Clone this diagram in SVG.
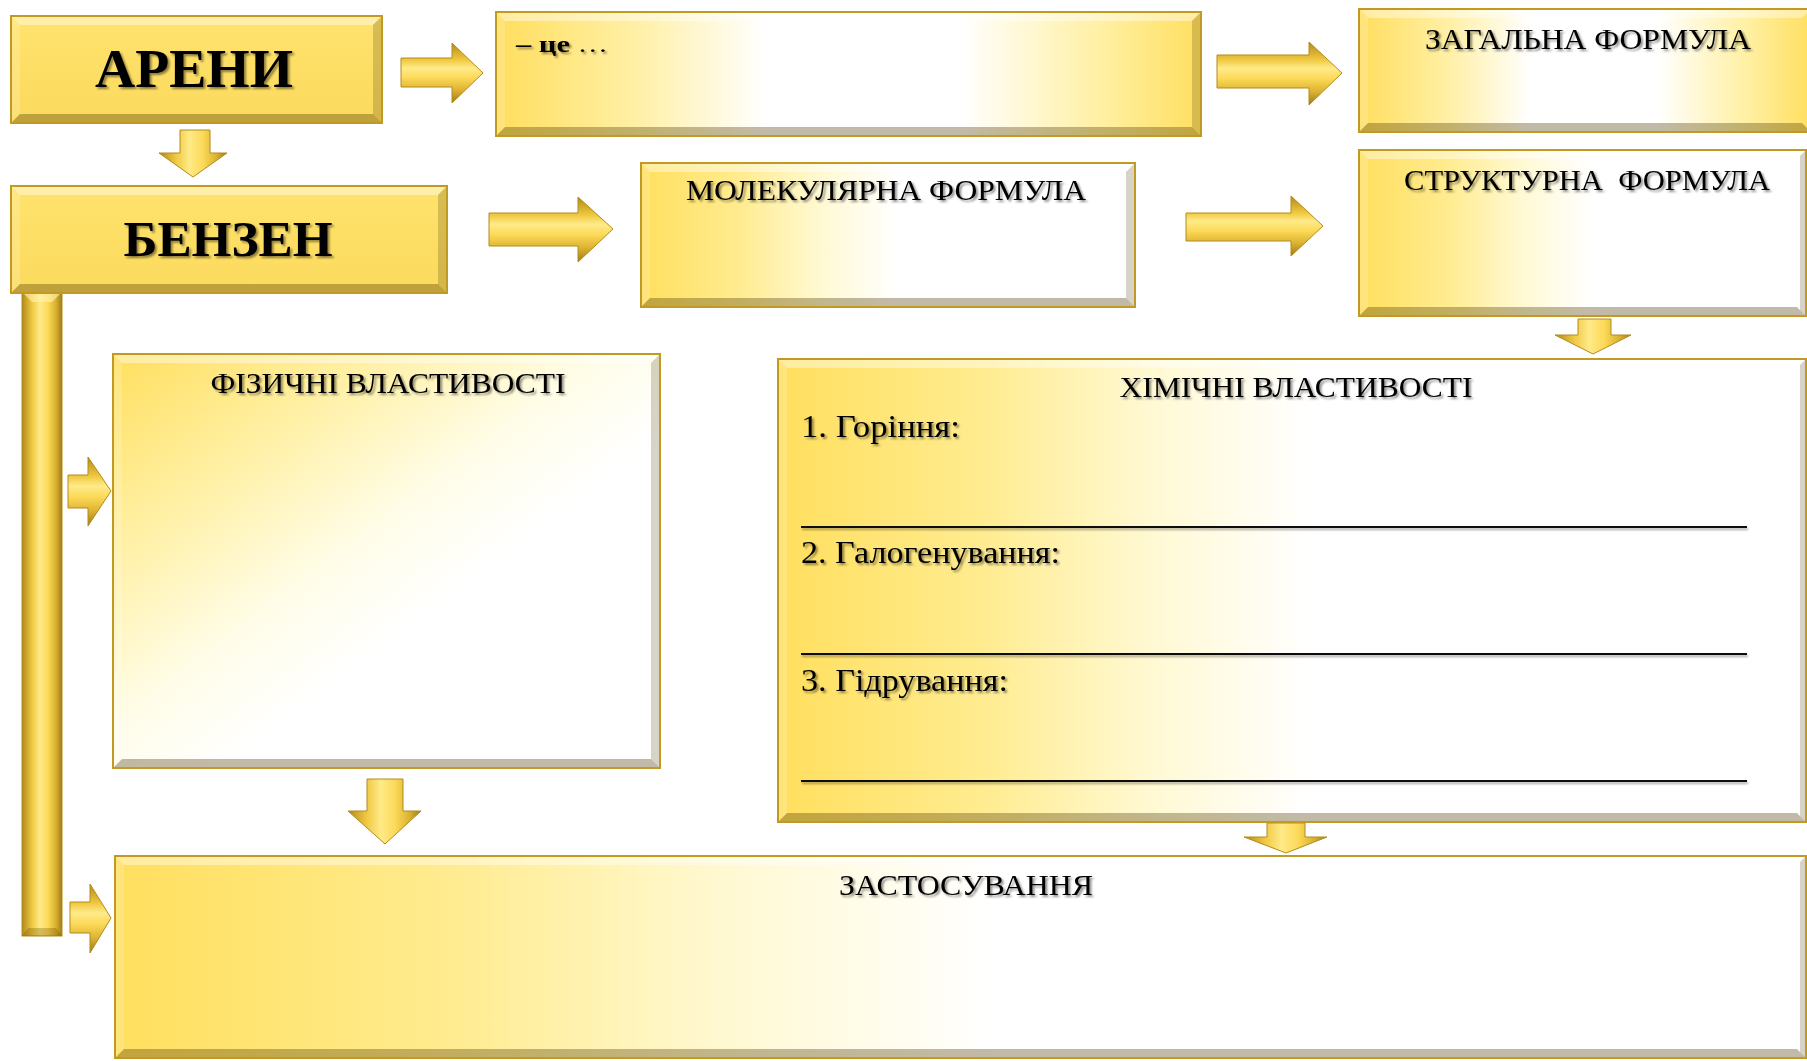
<svg xmlns="http://www.w3.org/2000/svg" width="1807" height="1061" viewBox="0 0 1807 1061">
  <defs>
    <style>
      .lbl { font-family: "Liberation Serif", "Times New Roman", serif; fill: #000; filter: url(#tsh); }
      .big { font-weight: bold; }
      .frame { fill: none; stroke: #C29A22; stroke-width: 2; }
      .hi { fill: #FFFFFF; opacity: 0.42; }
      .hi2 { fill: #FFFFFF; opacity: 0.18; }
      .lo { fill: #4A3600; opacity: 0.22; }
      .lo2 { fill: #4A3600; opacity: 0.34; }
      .rule { fill: #111; filter: url(#lsh); }
      .arrH { fill: url(#arrV); stroke: #B38B1A; stroke-width: 1; }
      .arrV { fill: url(#arrHz); stroke: #B38B1A; stroke-width: 1; }
    </style>
    <!-- solid gold face -->
    <linearGradient id="gold" x1="0" y1="0" x2="0" y2="1">
      <stop offset="0" stop-color="#FFE36E"/>
      <stop offset="1" stop-color="#FBDA5C"/>
    </linearGradient>
    <!-- gold at both ends, white in the middle -->
    <linearGradient id="gwg" x1="0" y1="0" x2="1" y2="0">
      <stop offset="0" stop-color="#FFDE5E"/>
      <stop offset="0.2" stop-color="#FFF0A6"/>
      <stop offset="0.38" stop-color="#FFFFFF"/>
      <stop offset="0.66" stop-color="#FFFFFF"/>
      <stop offset="0.86" stop-color="#FFF0A2"/>
      <stop offset="1" stop-color="#FFDF60"/>
    </linearGradient>
    <!-- gold on the left fading to white -->
    <linearGradient id="fade" x1="0" y1="0" x2="1" y2="0">
      <stop offset="0" stop-color="#FFDF5E"/>
      <stop offset="0.2" stop-color="#FFEC90"/>
      <stop offset="0.36" stop-color="#FFF9D2"/>
      <stop offset="0.52" stop-color="#FFFFFF"/>
      <stop offset="1" stop-color="#FFFFFF"/>
    </linearGradient>
    <!-- diagonal fade for the physical properties panel -->
    <linearGradient id="diag" x1="0" y1="0" x2="1" y2="1">
      <stop offset="0" stop-color="#FFDF5E"/>
      <stop offset="0.25" stop-color="#FFF1A8"/>
      <stop offset="0.45" stop-color="#FFFDE8"/>
      <stop offset="0.6" stop-color="#FFFFFF"/>
      <stop offset="1" stop-color="#FFFFFF"/>
    </linearGradient>
    <!-- arrow shading: across a horizontal arrow -->
    <linearGradient id="arrV" x1="0" y1="0" x2="0" y2="1">
      <stop offset="0" stop-color="#B08A1A"/>
      <stop offset="0.28" stop-color="#F0C840"/>
      <stop offset="0.42" stop-color="#FFEB8A"/>
      <stop offset="0.58" stop-color="#FCD958"/>
      <stop offset="0.78" stop-color="#DDB332"/>
      <stop offset="1" stop-color="#9E7C16"/>
    </linearGradient>
    <!-- arrow shading: across a vertical arrow / bar -->
    <linearGradient id="arrHz" x1="0" y1="0" x2="1" y2="0">
      <stop offset="0" stop-color="#B08A1A"/>
      <stop offset="0.25" stop-color="#EFC842"/>
      <stop offset="0.45" stop-color="#FFEA88"/>
      <stop offset="0.65" stop-color="#FCD958"/>
      <stop offset="0.85" stop-color="#D9B030"/>
      <stop offset="1" stop-color="#9E7C16"/>
    </linearGradient>
    <filter id="tsh" x="-5%" y="-30%" width="112%" height="170%">
      <feDropShadow dx="2" dy="2" stdDeviation="1.2" flood-color="#000" flood-opacity="0.45"/>
    </filter>
    <filter id="lsh" x="-2%" y="-300%" width="104%" height="800%">
      <feDropShadow dx="1" dy="2" stdDeviation="1" flood-color="#000" flood-opacity="0.35"/>
    </filter>
  </defs>

  <rect width="1807" height="1061" fill="#FFFFFF"/>

  <!-- connectors: block arrows and the side rail -->
  <g id="connectors">
    <polygon id="a-areny-def" class="arrH" points="401,58 452,58 452,43 483,73 452,103 452,87 401,87"/>
    <polygon id="a-def-general" class="arrH" points="1217,55 1309,55 1309,42 1342,73 1309,105 1309,88 1217,88"/>
    <polygon id="a-areny-benzen" class="arrV" points="180,130 210,130 210,153 227,153 193,177 159,153 180,153"/>
    <polygon id="a-benzen-mol" class="arrH" points="489,213 578,213 578,197 613,229 578,262 578,246 489,246"/>
    <polygon id="a-mol-struct" class="arrH" points="1186,213 1291,213 1291,196 1323,226 1291,256 1291,241 1186,241"/>
    <polygon id="a-struct-chem" class="arrV" points="1578,319 1611,319 1611,335 1631,335 1593,354 1555,335 1578,335"/>
    <g id="rail">
      <rect x="22" y="292" width="40" height="644" fill="url(#arrHz)" stroke="#B38B1A" stroke-width="1"/>
      <polygon points="22,292 62,292 52,302 32,302" fill="#FFF4B0" opacity="0.6"/>
      <polygon points="22,936 62,936 56,928 28,928" fill="#6A5200" opacity="0.3"/>
    </g>
    <polygon id="a-rail-phys" class="arrH" points="68,475 88,475 88,457 111,491 88,526 88,508 68,508"/>
    <polygon id="a-phys-use" class="arrV" points="367,779 403,779 403,811 421,811 385,844 348,811 367,811"/>
    <polygon id="a-rail-use" class="arrH" points="70,902 90,902 90,884 111,918 90,953 90,933 70,933"/>
    <polygon id="a-chem-use" class="arrV" points="1267,823 1305,823 1305,837 1327,837 1286,853 1244,837 1267,837"/>
  </g>

  <!-- АРЕНИ -->
  <g id="node-areny">
    <rect x="11" y="16" width="371" height="107" fill="url(#gold)"/>
    <polygon class="hi" points="11,16 382,16 373,25 20,25"/>
    <polygon class="hi2" points="11,16 20,25 20,114 11,123"/>
    <polygon class="lo" points="382,16 382,123 373,114 373,25"/>
    <polygon class="lo2" points="11,123 382,123 373,114 20,114"/>
    <rect class="frame" x="11" y="16" width="371" height="107"/>
    <text class="lbl big" x="194" y="87" font-size="55" text-anchor="middle" textLength="198" lengthAdjust="spacingAndGlyphs">АРЕНИ</text>
  </g>

  <!-- БЕНЗЕН -->
  <g id="node-benzen">
    <rect x="11" y="186" width="436" height="107" fill="url(#gold)"/>
    <polygon class="hi" points="11,186 447,186 438,195 20,195"/>
    <polygon class="hi2" points="11,186 20,195 20,284 11,293"/>
    <polygon class="lo" points="447,186 447,293 438,284 438,195"/>
    <polygon class="lo2" points="11,293 447,293 438,284 20,284"/>
    <rect class="frame" x="11" y="186" width="436" height="107"/>
    <text class="lbl big" x="228" y="256" font-size="51" text-anchor="middle" textLength="209" lengthAdjust="spacingAndGlyphs">БЕНЗЕН</text>
  </g>

  <!-- definition -->
  <g id="node-definition">
    <rect x="496" y="12" width="705" height="124" fill="url(#gwg)"/>
    <polygon class="hi" points="496,12 1201,12 1192,21 505,21"/>
    <polygon class="hi2" points="496,12 505,21 505,127 496,136"/>
    <polygon class="lo" points="1201,12 1201,136 1192,127 1192,21"/>
    <polygon class="lo2" points="496,136 1201,136 1192,127 505,127"/>
    <rect class="frame" x="496" y="12" width="705" height="124"/>
    <text class="lbl" x="516" y="52" font-size="23" textLength="92" lengthAdjust="spacingAndGlyphs"><tspan font-weight="bold">– це</tspan> …</text>
  </g>

  <!-- general formula -->
  <g id="node-general">
    <rect x="1359" y="9" width="452" height="123" fill="url(#gwg)"/>
    <polygon class="hi" points="1359,9 1811,9 1802,18 1368,18"/>
    <polygon class="hi2" points="1359,9 1368,18 1368,123 1359,132"/>
    <polygon class="lo2" points="1359,132 1811,132 1802,123 1368,123"/>
    <rect class="frame" x="1359" y="9" width="452" height="123"/>
    <text class="lbl" x="1588" y="49" font-size="30" text-anchor="middle" textLength="326" lengthAdjust="spacingAndGlyphs">ЗАГАЛЬНА ФОРМУЛА</text>
  </g>

  <!-- molecular formula -->
  <g id="node-molecular">
    <rect x="641" y="163" width="494" height="144" fill="url(#fade)"/>
    <polygon class="hi" points="641,163 1135,163 1126,172 650,172"/>
    <polygon class="hi2" points="641,163 650,172 650,298 641,307"/>
    <polygon class="lo" points="1135,163 1135,307 1126,298 1126,172"/>
    <polygon class="lo2" points="641,307 1135,307 1126,298 650,298"/>
    <rect class="frame" x="641" y="163" width="494" height="144"/>
    <text class="lbl" x="886" y="200" font-size="30" text-anchor="middle" textLength="400" lengthAdjust="spacingAndGlyphs">МОЛЕКУЛЯРНА ФОРМУЛА</text>
  </g>

  <!-- structural formula -->
  <g id="node-structural">
    <rect x="1359" y="150" width="447" height="166" fill="url(#fade)"/>
    <polygon class="hi" points="1359,150 1806,150 1797,159 1368,159"/>
    <polygon class="hi2" points="1359,150 1368,159 1368,307 1359,316"/>
    <polygon class="lo" points="1806,150 1806,316 1800,310 1800,156"/>
    <polygon class="lo2" points="1359,316 1806,316 1797,307 1368,307"/>
    <rect class="frame" x="1359" y="150" width="447" height="166"/>
    <text class="lbl" x="1587" y="190" font-size="30" text-anchor="middle" textLength="366" lengthAdjust="spacingAndGlyphs" xml:space="preserve">СТРУКТУРНА  ФОРМУЛА</text>
  </g>

  <!-- physical properties -->
  <g id="node-physical">
    <rect x="113" y="354" width="547" height="414" fill="url(#diag)"/>
    <polygon class="hi" points="113,354 660,354 651,363 122,363"/>
    <polygon class="hi2" points="113,354 122,363 122,759 113,768"/>
    <polygon class="lo" points="660,354 660,768 651,759 651,363"/>
    <polygon class="lo2" points="113,768 660,768 651,759 122,759"/>
    <rect class="frame" x="113" y="354" width="547" height="414"/>
    <text class="lbl" x="388" y="393" font-size="30" text-anchor="middle" textLength="355" lengthAdjust="spacingAndGlyphs">ФІЗИЧНІ ВЛАСТИВОСТІ</text>
  </g>

  <!-- chemical properties -->
  <g id="node-chemical">
    <rect x="778" y="359" width="1028" height="463" fill="url(#fade)"/>
    <polygon class="hi" points="778,359 1806,359 1797,368 787,368"/>
    <polygon class="hi2" points="778,359 787,368 787,813 778,822"/>
    <polygon class="lo" points="1806,359 1806,822 1800,816 1800,365"/>
    <polygon class="lo2" points="778,822 1806,822 1797,813 787,813"/>
    <rect class="frame" x="778" y="359" width="1028" height="463"/>
    <text class="lbl" x="1296" y="397" font-size="30" text-anchor="middle" textLength="353" lengthAdjust="spacingAndGlyphs">ХІМІЧНІ ВЛАСТИВОСТІ</text>
    <text class="lbl" x="801" y="437" font-size="31" textLength="159" lengthAdjust="spacingAndGlyphs">1. Горіння:</text>
    <rect class="rule" x="801" y="526" width="946" height="2"/>
    <text class="lbl" x="801" y="563" font-size="31" textLength="259" lengthAdjust="spacingAndGlyphs">2. Галогенування:</text>
    <rect class="rule" x="801" y="653" width="946" height="2"/>
    <text class="lbl" x="801" y="691" font-size="31" textLength="207" lengthAdjust="spacingAndGlyphs">3. Гідрування:</text>
    <rect class="rule" x="801" y="780" width="946" height="2"/>
  </g>

  <!-- applications -->
  <g id="node-applications">
    <rect x="115" y="856" width="1691" height="202" fill="url(#fade)"/>
    <polygon class="hi" points="115,856 1806,856 1797,865 124,865"/>
    <polygon class="hi2" points="115,856 124,865 124,1049 115,1058"/>
    <polygon class="lo" points="1806,856 1806,1058 1800,1052 1800,862"/>
    <polygon class="lo2" points="115,1058 1806,1058 1797,1049 124,1049"/>
    <rect class="frame" x="115" y="856" width="1691" height="202"/>
    <text class="lbl" x="966" y="895" font-size="30" text-anchor="middle" textLength="254" lengthAdjust="spacingAndGlyphs">ЗАСТОСУВАННЯ</text>
  </g>
</svg>
